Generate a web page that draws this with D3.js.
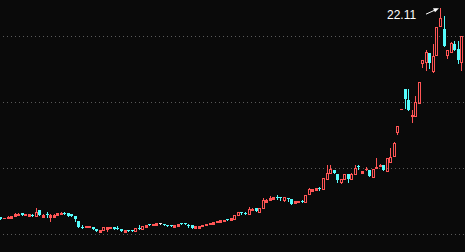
<!DOCTYPE html>
<html><head><meta charset="utf-8">
<script src="https://cdn.jsdelivr.net/npm/d3@7"></script>
<style>html,body{margin:0;padding:0;background:#0a0a0a;}svg{display:block;}</style>
</head><body>
<svg id="c" width="465" height="252"></svg>
<script>
const open = [6.29,6.19,6.21,6.24,6.39,6.42,6.61,6.44,6.39,6.47,6.39,6.80,6.31,6.49,6.26,6.31,6.42,6.52,6.59,6.57,
6.50,6.36,6.01,5.55,5.51,5.55,5.55,5.40,5.18,5.33,5.38,5.43,5.53,5.45,5.38,5.18,5.30,5.33,5.25,5.43,
5.40,5.53,5.76,5.70,5.66,5.81,5.78,5.70,5.68,5.55,5.60,5.81,5.83,5.68,5.66,5.43,5.48,5.58,5.66,5.73,
5.76,5.89,5.93,5.98,6.16,6.06,6.14,6.42,6.63,6.56,6.55,6.79,6.97,6.70,6.99,7.45,7.58,7.67,7.84,7.77,
7.58,7.75,7.63,7.33,7.45,7.52,7.39,8.01,8.28,8.31,8.48,8.39,9.14,9.64,9.85,9.55,8.94,9.17,9.55,9.17,
9.58,10.15,9.64,9.89,9.85,9.34,10.02,10.15,10.25,9.80,10.45,10.91,12.70,14.45,15.98,15.15,13.95,13.96,14.96,17.93,
18.05,18.73,17.35,18.56,20.76,20.51,18.54,18.81,19.39,18.99,18.05];
const high = [6.30,6.25,6.36,6.40,6.59,6.56,6.62,6.53,6.50,6.48,6.95,6.81,6.48,6.69,6.48,6.48,6.62,6.63,6.67,6.58,
6.51,6.37,6.02,5.68,5.62,5.64,5.56,5.41,5.34,5.55,5.52,5.54,5.54,5.63,5.39,5.34,5.31,5.34,5.46,5.68,
5.59,5.71,5.77,5.79,5.84,5.83,5.79,5.71,5.69,5.71,5.79,5.82,5.84,5.73,5.67,5.59,5.59,5.69,5.77,5.87,
5.94,5.99,6.09,6.09,6.17,6.25,6.45,6.64,6.70,6.63,7.08,6.95,6.98,7.00,7.73,7.65,7.90,7.81,7.93,7.83,
7.79,7.76,7.64,7.51,7.53,7.58,7.95,8.52,8.44,8.52,8.56,9.25,10.19,10.19,9.86,9.56,9.18,9.56,9.56,9.59,
10.23,10.25,9.81,10.10,9.86,9.96,10.76,10.34,10.26,10.75,11.52,11.94,13.17,14.49,15.99,15.98,14.39,15.42,16.53,18.19,
18.94,18.74,19.39,20.67,22.11,21.52,18.95,19.57,19.62,19.62,20.01];
const low = [6.12,6.17,6.20,6.23,6.38,6.41,6.43,6.43,6.38,6.36,6.38,6.43,6.30,6.31,5.93,6.30,6.41,6.51,6.52,6.38,
6.38,6.01,5.54,5.44,5.50,5.54,5.39,5.24,5.17,5.32,5.18,5.42,5.37,5.35,5.24,5.17,5.19,5.22,5.24,5.35,
5.39,5.52,5.67,5.69,5.65,5.76,5.69,5.62,5.57,5.54,5.58,5.72,5.75,5.55,5.47,5.42,5.47,5.57,5.65,5.72,
5.75,5.88,5.92,5.97,6.07,6.05,6.13,6.41,6.48,6.48,6.54,6.78,6.73,6.69,6.98,7.44,7.57,7.66,7.67,7.60,
7.42,7.52,7.29,7.32,7.44,7.40,7.38,8.00,8.27,8.30,8.33,8.38,9.13,9.63,9.63,8.94,8.76,9.16,8.94,9.16,
9.57,9.89,9.63,9.74,9.36,9.33,10.01,10.04,9.84,9.79,10.38,10.90,12.52,14.44,14.55,14.38,13.39,13.95,14.95,17.55,
17.37,17.55,17.20,18.55,20.75,19.25,18.26,18.80,18.93,17.93,17.37];
const close = [6.14,6.23,6.29,6.39,6.52,6.54,6.44,6.52,6.49,6.42,6.69,6.44,6.47,6.44,6.47,6.47,6.61,6.61,6.57,6.39,
6.39,6.14,5.55,5.45,5.61,5.63,5.40,5.25,5.33,5.51,5.51,5.53,5.38,5.36,5.25,5.33,5.20,5.23,5.45,5.36,
5.58,5.70,5.68,5.78,5.83,5.81,5.70,5.63,5.58,5.70,5.77,5.73,5.76,5.63,5.48,5.58,5.58,5.68,5.76,5.86,
5.93,5.98,6.08,6.08,6.08,6.24,6.44,6.63,6.59,6.52,6.93,6.93,6.74,6.99,7.58,7.60,7.75,7.80,7.80,7.73,
7.78,7.70,7.30,7.50,7.52,7.48,7.94,8.39,8.43,8.51,8.41,9.24,9.62,9.90,9.64,9.09,9.17,9.55,9.19,9.58,
10.00,10.08,9.80,9.92,9.37,9.95,10.08,10.20,9.85,10.74,10.83,11.93,13.16,14.48,15.23,14.39,14.02,15.00,16.52,18.18,
18.81,17.93,18.48,20.66,21.34,19.26,18.94,19.45,18.94,18.18,20.00];
const gridValues = [5, 10, 15, 20];
const maxLabel = "22.11";

const W = 465, H = 252;
const svg = d3.select("#c");
svg.append("rect").attr("width", W).attr("height", H).attr("fill", "#0a0a0a");

const idx = d3.range(open.length);
const x = d3.scaleBand().domain(idx).range([-0.8, 463.5]).padding(0);
const y = d3.scaleLinear().domain([5, 20]).range([234, 36]);
const cx = i => Math.floor(x(i) + x.bandwidth() / 2);

// dotted gridlines
svg.append("g").selectAll("line").data(gridValues).join("line")
  .attr("x1", 3).attr("x2", W)
  .attr("y1", d => Math.round(y(d)) + 0.5).attr("y2", d => Math.round(y(d)) + 0.5)
  .attr("stroke", "#5a5a5a").attr("stroke-width", 1).attr("stroke-dasharray", "1,3");

const RED = "#ff5555", CYAN = "#54fcfc", WHITE = "#e8e8e8";
const g = svg.append("g");
idx.forEach(i => {
  const o = open[i], c = close[i], h = high[i], l = low[i];
  const px = cx(i);
  const top = Math.round(y(Math.max(o, c)));
  const bot = Math.round(y(Math.min(o, c)));
  const yh = Math.round(y(h)), yl = Math.round(y(l));
  const col = c > o ? RED : (c < o ? CYAN : WHITE);
  if (c > o) {
    if (yh < top) g.append("line").attr("x1", px + 0.5).attr("x2", px + 0.5).attr("y1", yh).attr("y2", top).attr("stroke", col);
    if (yl > bot) g.append("line").attr("x1", px + 0.5).attr("x2", px + 0.5).attr("y1", bot).attr("y2", yl).attr("stroke", col);
    if (bot - top <= 2) {
      g.append("rect").attr("x", px - 1).attr("y", top).attr("width", 3).attr("height", Math.max(1, bot - top + 1)).attr("fill", col);
    } else {
      g.append("rect").attr("x", px - 0.5).attr("y", top + 0.5).attr("width", 2).attr("height", bot - top)
        .attr("fill", "none").attr("stroke", col).attr("stroke-width", 1);
    }
  } else {
    g.append("line").attr("x1", px + 0.5).attr("x2", px + 0.5).attr("y1", yh).attr("y2", yl + 1).attr("stroke", col);
    g.append("rect").attr("x", px - 1).attr("y", top).attr("width", 3).attr("height", Math.max(1, bot - top)).attr("fill", col);
  }
});

// max label with arrow
const mi = d3.maxIndex(high);
const mx = cx(mi), my = y(high[mi]);
svg.append("text").attr("x", mx - 53).attr("y", my + 11)
  .attr("fill", "#ffffff").attr("font-family", "Liberation Sans, Arial, sans-serif").attr("font-size", 12)
  .text(maxLabel);
svg.append("line").attr("x1", mx - 14).attr("y1", my + 6).attr("x2", mx - 3).attr("y2", my + 1)
  .attr("stroke", "#ffffff").attr("stroke-width", 1);
svg.append("path").attr("d", `M${mx - 1},${my} L${mx - 7},${my} L${mx - 5},${my + 4} Z`).attr("fill", "#ffffff");
</script>
</body></html>
